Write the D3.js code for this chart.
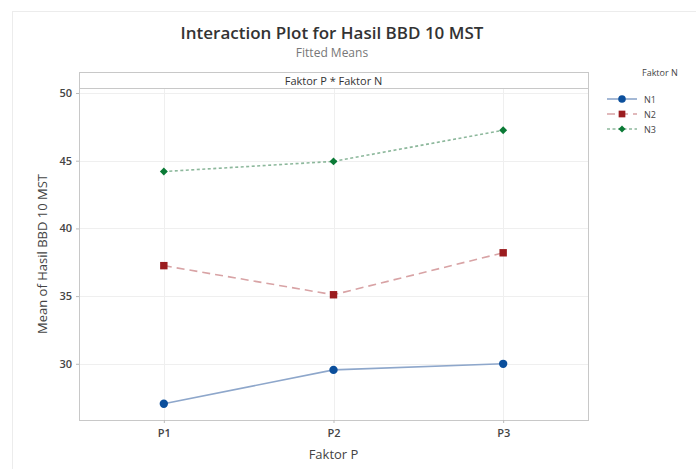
<!DOCTYPE html>
<html>
<head>
<meta charset="utf-8">
<script src="https://cdn.jsdelivr.net/npm/d3@7"></script>
<style>
  body { margin: 0; background: #fff; }
  text { font-family: "Open Sans", "Noto Sans", sans-serif; }
</style>
</head>
<body>
<svg id="chart" width="696" height="469"></svg>
<script>
"use strict";

// niveaux du facteur P (axe x)
var faktorP = ["P1", "P2", "P3"];
// niveaux du facteur N (series)
var faktorN = ["N1", "N2", "N3"];
// moyennes ajustees
var meanN1 = [27.05, 29.55, 30.0];
var meanN2 = [37.25, 35.1, 38.2];
var meanN3 = [44.2, 44.95, 47.25];
var yTicks = [30, 35, 40, 45, 50];

var series = [
  { name: faktorN[0], values: meanN1, color: "#0b4f9c", line: "#8ea7cb", dash: null, shape: "circle" },
  { name: faktorN[1], values: meanN2, color: "#9b1c1f", line: "#d8a3a5", dash: "8,5", shape: "square" },
  { name: faktorN[2], values: meanN3, color: "#0b7a36", line: "#8db89c", dash: "3,2.5", shape: "diamond" }
];

var svg = d3.select("#chart");

// cadre exterieur
svg.append("rect")
  .attr("x", 12.5).attr("y", 11.5)
  .attr("width", 700).attr("height", 480)
  .attr("fill", "none").attr("stroke", "#ececec");

var pLeft = 79, pRight = 588, pTop = 88, pBottom = 420;

var x = d3.scalePoint()
  .domain(faktorP)
  .range([pLeft, pRight])
  .padding(0.5);

var y = d3.scaleLinear()
  .domain([25.85, 50.37])
  .range([pBottom, pTop]);

// titres
svg.append("text")
  .attr("x", 332).attr("y", 39)
  .attr("text-anchor", "middle")
  .style("font-size", "17px")
  .style("font-weight", "600")
  .style("fill", "#333")
  .text("Interaction Plot for Hasil BBD 10 MST");

svg.append("text")
  .attr("x", 332).attr("y", 57)
  .attr("text-anchor", "middle")
  .style("font-size", "12px")
  .style("fill", "#777")
  .text("Fitted Means");

// bandeau
svg.append("rect")
  .attr("x", pLeft + 0.5).attr("y", 72.5)
  .attr("width", pRight - pLeft).attr("height", pTop - 72)
  .attr("fill", "#fff").attr("stroke", "#c8c8c8");

svg.append("line")
  .attr("x1", pLeft).attr("x2", pRight)
  .attr("y1", pTop + 0.5).attr("y2", pTop + 0.5)
  .attr("stroke", "#777");

svg.append("text")
  .attr("x", (pLeft + pRight) / 2).attr("y", 85)
  .attr("text-anchor", "middle")
  .style("font-size", "11px")
  .style("fill", "#333")
  .text("Faktor P * Faktor N");

// grille
var grid = svg.append("g");
grid.selectAll(".gy")
  .data(yTicks)
  .enter().append("line")
  .attr("x1", pLeft).attr("x2", pRight)
  .attr("y1", function(d) { return Math.round(y(d)) + 0.5; })
  .attr("y2", function(d) { return Math.round(y(d)) + 0.5; })
  .attr("stroke", "#efefef");

grid.selectAll(".gx")
  .data(faktorP)
  .enter().append("line")
  .attr("x1", function(d) { return Math.round(x(d)) + 0.5; })
  .attr("x2", function(d) { return Math.round(x(d)) + 0.5; })
  .attr("y1", pTop).attr("y2", pBottom)
  .attr("stroke", "#efefef");

// panneau
svg.append("rect")
  .attr("x", pLeft + 0.5).attr("y", pTop + 0.5)
  .attr("width", pRight - pLeft).attr("height", pBottom - pTop)
  .attr("fill", "none").attr("stroke", "#c8c8c8");

// axes
var yAxis = svg.append("g")
  .attr("transform", "translate(" + pLeft + ",0)")
  .call(d3.axisLeft(y).tickValues(yTicks).tickSize(3).tickPadding(4));

var xAxis = svg.append("g")
  .attr("transform", "translate(0," + pBottom + ")")
  .call(d3.axisBottom(x).tickSize(3).tickPadding(6));

[yAxis, xAxis].forEach(function(ax) {
  ax.select(".domain").remove();
  ax.selectAll("line").attr("stroke", "#bbb");
  ax.selectAll("text")
    .style("font-family", "\"Open Sans\", sans-serif")
    .style("font-size", "11px")
    .style("font-weight", "600")
    .style("fill", "#444");
});

svg.append("text")
  .attr("transform", "translate(47," + (pTop + pBottom) / 2 + ") rotate(-90)")
  .attr("text-anchor", "middle")
  .style("font-size", "13px")
  .style("fill", "#444")
  .text("Mean of Hasil BBD 10 MST");

svg.append("text")
  .attr("x", x("P2")).attr("y", 459)
  .attr("text-anchor", "middle")
  .style("font-size", "13px")
  .style("fill", "#444")
  .text("Faktor P");

// marqueurs
function symbolFor(shape, size) {
  var t = shape == "square" ? d3.symbolSquare : (shape == "diamond" ? d3.symbolDiamond2 : d3.symbolCircle);
  return d3.symbol().type(t).size(size)();
}

var line = d3.line()
  .x(function(d, i) { return x(faktorP[i]); })
  .y(function(d) { return y(d); });

series.forEach(function(s) {
  svg.append("path")
    .attr("d", line(s.values))
    .attr("fill", "none")
    .attr("stroke", s.line)
    .attr("stroke-width", 1.6)
    .attr("stroke-dasharray", s.dash);

  svg.selectAll(".pt-" + s.name)
    .data(s.values)
    .enter().append("path")
    .attr("transform", function(d, i) { return "translate(" + x(faktorP[i]) + "," + y(d) + ")"; })
    .attr("d", symbolFor(s.shape, s.shape == "diamond" ? 40 : 55))
    .attr("fill", s.color);
});

// legende
var legend = svg.append("g").attr("transform", "translate(607,0)");

legend.append("text")
  .attr("x", 35).attr("y", 76)
  .style("font-size", "9px")
  .style("fill", "#444")
  .text("Faktor N");

legend.selectAll("g.item")
  .data(series)
  .enter().append("g")
  .attr("class", "item")
  .attr("transform", function(s, i) { return "translate(0," + (99 + i * 15) + ")"; })
  .each(function(s) {
    var g = d3.select(this);
    g.append("line")
      .attr("x1", 0).attr("x2", 30)
      .attr("stroke", s.line).attr("stroke-width", 1.6)
      .attr("stroke-dasharray", s.dash);
    g.append("path")
      .attr("transform", "translate(15,0)")
      .attr("d", symbolFor(s.shape, s.shape == "diamond" ? 32 : 45))
      .attr("fill", s.color);
    g.append("text")
      .attr("x", 37).attr("y", 3.5)
      .style("font-size", "9px")
      .style("fill", "#444")
      .text(s.name);
  });
</script>
</body>
</html>
